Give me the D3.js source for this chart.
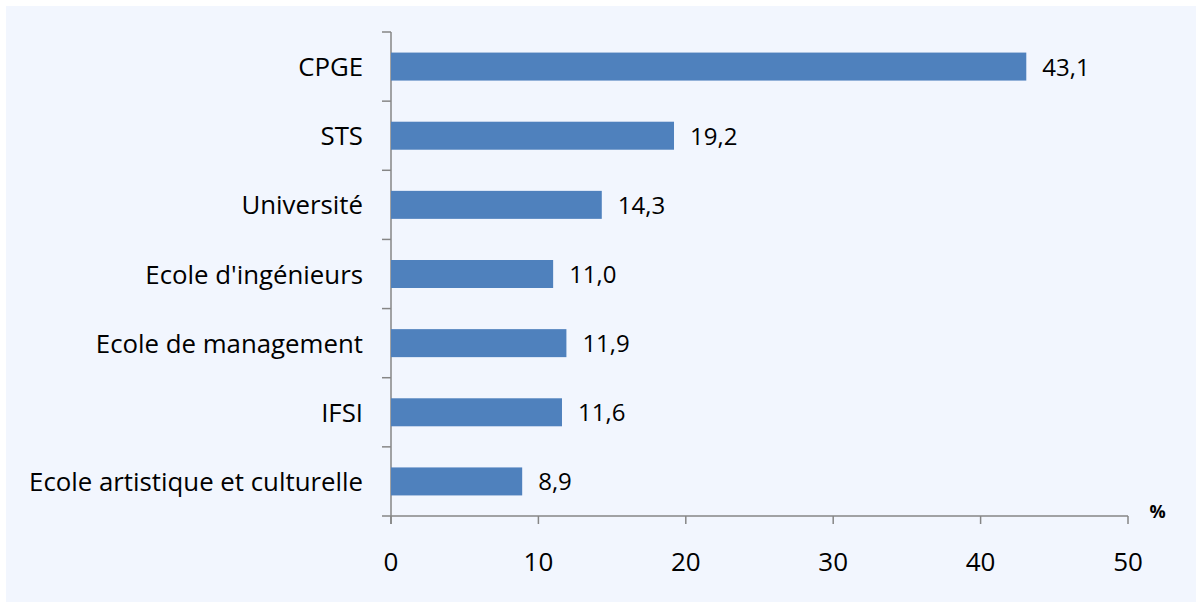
<!DOCTYPE html>
<html><head><meta charset="utf-8">
<script src="https://cdn.jsdelivr.net/npm/d3@7"></script>
<style>html,body{margin:0;padding:0;background:#fff;}svg{display:block;}</style>
</head><body>
<svg id="c" width="1196" height="602"></svg>
<script>
const categories = ["CPGE","STS","Université","Ecole d'ingénieurs","Ecole de management","IFSI","Ecole artistique et culturelle"];
const values = [43.1,19.2,14.3,11.0,11.9,11.6,8.9];
const valueLabels = ["43,1","19,2","14,3","11,0","11,9","11,6","8,9"];
const xTicks = [0,10,20,30,40,50];
const unitLabel = "%";

const svg = d3.select("#c");
const font = "Open Sans, sans-serif";
svg.append("rect").attr("x",6).attr("y",6).attr("width",1190).attr("height",596).attr("fill","#F2F6FE");

const x = d3.scaleLinear().domain([0,50]).range([391,1128]);
const y = d3.scaleBand().domain(categories).range([32,516]).paddingInner(0.595).paddingOuter(0.2975);
const band = d3.scaleBand().domain(categories).range([32,516]);

const axisColor = "#868686";
const g = svg.append("g");
g.append("line").attr("x1",391).attr("x2",391).attr("y1",32).attr("y2",524).attr("stroke",axisColor).attr("stroke-width",1.5);
const yTickPos = categories.map(c=>band(c)).concat([516]);
g.selectAll(".yt").data(yTickPos).enter().append("line")
 .attr("x1",382).attr("x2",391).attr("y1",d=>d).attr("y2",d=>d).attr("stroke",axisColor).attr("stroke-width",1.5);
g.append("line").attr("x1",391).attr("x2",x(50)).attr("y1",516).attr("y2",516).attr("stroke",axisColor).attr("stroke-width",1.5);
g.selectAll(".xt").data(xTicks).enter().append("line")
 .attr("x1",d=>x(d)).attr("x2",d=>x(d)).attr("y1",516).attr("y2",524).attr("stroke",axisColor).attr("stroke-width",1.5);
g.selectAll(".xl").data(xTicks).enter().append("text")
 .attr("x",d=>x(d)).attr("y",571).attr("text-anchor","middle").attr("font-family",font).attr("font-size",26).attr("fill","#000").text(d=>d);

svg.selectAll(".bar").data(values).enter().append("rect")
 .attr("x",x(0)).attr("y",(d,i)=>y(categories[i])).attr("width",d=>x(d)-x(0)).attr("height",y.bandwidth()).attr("fill","#4F81BD");
svg.selectAll(".cl").data(categories).enter().append("text")
 .attr("x",363).attr("y",d=>band(d)+band.bandwidth()/2+9.5).attr("text-anchor","end")
 .attr("font-family",font).attr("font-size",25.8).attr("fill","#000").text(d=>d);
svg.selectAll(".vl").data(values).enter().append("text")
 .attr("x",d=>x(d)+16).attr("y",(d,i)=>band(categories[i])+band.bandwidth()/2+9)
 .attr("font-family",font).attr("font-size",24).attr("fill","#000").text((d,i)=>valueLabels[i]);
svg.append("text").attr("x",1157).attr("y",518).attr("text-anchor","middle").attr("font-family",font).attr("font-size",18).attr("font-weight","bold").attr("letter-spacing",-1).text(unitLabel);
</script>
</body></html>
